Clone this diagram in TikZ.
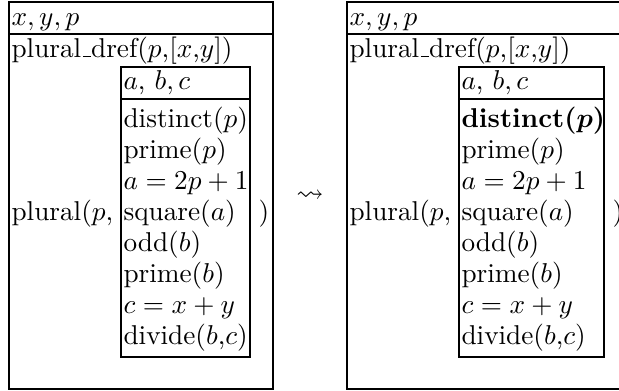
\documentclass[tikz,border=0pt]{standalone}
\usepackage{amsmath,amssymb}
\newcommand{\usc}{\kern.06em\rule{.3em}{.4pt}}

\begin{document}
\begin{tikzpicture}[x=0.367pt,y=-0.367pt,
  txt/.style={anchor=base west,inner sep=0pt},
  box/.style={black,line width=0.45pt}]
\clip (0,0) rectangle (619,390);
% left drs
\coordinate (A1) at (9,2);
\coordinate (A2) at (273,389);
\coordinate (B1) at (121,67);
\coordinate (B2) at (250,357);
\draw[box] (A1) rectangle (A2);
\draw[box] (9,34)--(273,34);
\draw[box] (B1) rectangle (B2);
\draw[box] (121,99)--(250,99);
\node[txt] (lhead) at (11,25) {$x,y,p$};
\node[txt] (ldref) at (11,57) {plural\usc dref($p$,[$x$,$y$])};
\node[txt] (lplural) at (11,220) {plural($p$,};
\node[txt] (lvars) at (123,89) {$a$, $b,c$};
\foreach \t [count=\i from 0] in {{distinct($p$)},{prime($p$)},{$a=2p+1$},{square($a$)},
    {odd($b$)},{prime($b$)},{$c=x+y$},{divide($b$,$c$)}}
  \node[txt] (lcond\i) at (123,{127+31*\i}) {\t};
\node[txt] (lclose) at (258,220) {)};
% step
\node (step) at (310,196) {$\leadsto$};
% right drs
\coordinate (C1) at (347,2);
\coordinate (C2) at (627,389);
\coordinate (D1) at (459,67);
\coordinate (D2) at (604,357);
\draw[box] (C1) rectangle (C2);
\draw[box] (347,34)--(627,34);
\draw[box] (D1) rectangle (D2);
\draw[box] (459,99)--(604,99);
\node[txt] (rhead) at (349,25) {$x,y,p$};
\node[txt] (rdref) at (349,57) {plural\usc dref($p$,[$x$,$y$])};
\node[txt] (rplural) at (349,220) {plural($p$,};
\node[txt] (rvars) at (461,89) {$a$, $b,c$};
\node[txt] (rcond0) at (461,127) {\textbf{distinct}$\boldsymbol{(p)}$};
\foreach \t [count=\i] in {{prime($p$)},{$a=2p+1$},{square($a$)},
    {odd($b$)},{prime($b$)},{$c=x+y$},{divide($b$,$c$)}}
  \node[txt] (rcond\i) at (461,{127+31*\i}) {\t};
\node[txt] (rclose) at (612,220) {)};
\end{tikzpicture}
\end{document}
